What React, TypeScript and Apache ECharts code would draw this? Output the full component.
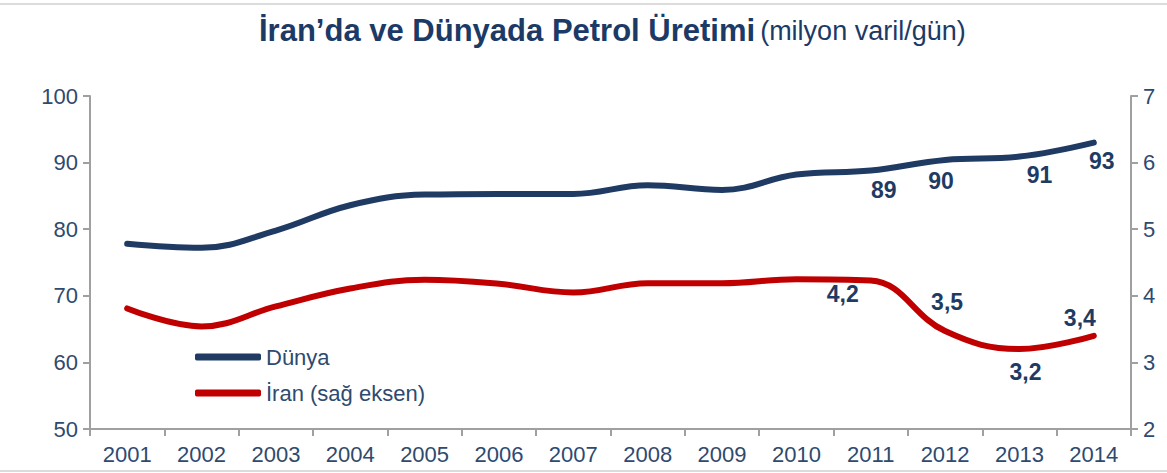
import React, { useEffect, useRef } from "react";
import * as echarts from "echarts";

const years = ["2001","2002","2003","2004","2005","2006","2007","2008","2009","2010","2011","2012","2013","2014"];
const dunya = [77.8, 77.2, 79.8, 83.6, 85.2, 85.3, 85.3, 86.6, 85.9, 88.2, 88.8, 90.4, 90.9, 93.0];
const iran = [3.81, 3.54, 3.84, 4.11, 4.24, 4.18, 4.05, 4.19, 4.19, 4.25, 4.23, 3.47, 3.2, 3.4];
const dunyaLabels: Record<number, string> = { 10: "89", 11: "90", 12: "91", 13: "93" };
const iranLabels: Record<number, string> = { 10: "4,2", 11: "3,5", 12: "3,2", 13: "3,4" };
const leftTicks = { min: 50, max: 100, interval: 10 };
const rightTicks = { min: 2, max: 7, interval: 1 };

const FONT = "'Liberation Sans', Arial, sans-serif";
const TEXT = "#2e4a6e";
const NAVY = "#1f3b63";
const RED = "#c00000";
const AXIS = "#a0a0a0";

export default function App() {
  const ref = useRef<HTMLDivElement>(null);
  useEffect(() => {
    if (!ref.current) return;
    const chart = echarts.init(ref.current, null, { renderer: "svg" });
    const dunyaPos: Record<number, any> = {
      10: { position: "bottom", distance: 8, offset: [13, 0] },
      11: { position: "bottom", distance: 10, offset: [-4, 0] },
      12: { position: "bottom", distance: 7, offset: [20, 0] },
      13: { position: "bottom", distance: 7, offset: [8, 0] },
    };
    const iranPos: Record<number, any> = {
      10: { position: "bottom", distance: 2, offset: [-28, 0] },
      11: { position: "top", distance: 18, offset: [2, 0] },
      12: { position: "bottom", distance: 11, offset: [6, 0] },
      13: { position: "top", distance: 6, offset: [-14, 0] },
    };
    const lbl = (txt: string, p: any) => ({
      show: true,
      formatter: txt,
      color: NAVY,
      fontFamily: FONT,
      fontWeight: "bold",
      fontSize: 23,
      ...p,
    });
    const dData = dunya.map((v, i) =>
      dunyaLabels[i] ? { value: v, label: lbl(dunyaLabels[i], dunyaPos[i]) } : v
    );
    const iData = iran.map((v, i) =>
      iranLabels[i] ? { value: v, label: lbl(iranLabels[i], iranPos[i]) } : v
    );
    const yAxisCommon = {
      type: "value",
      splitLine: { show: false },
      axisLine: { show: true, lineStyle: { color: AXIS, width: 2 } },
      axisTick: { show: true, length: 7, lineStyle: { color: AXIS, width: 2 } },
      axisLabel: { color: TEXT, fontFamily: FONT, fontSize: 22, margin: 12 },
    };
    chart.setOption({
      animation: false,
      title: {
        text: "{a|İran’da ve Dünyada Petrol Üretimi} {b|(milyon varil/gün)}",
        left: 254,
        top: 10,
        textStyle: {
          rich: {
            a: { fontFamily: FONT, fontWeight: "bold", fontSize: 31, color: "#1b3a66" },
            b: { fontFamily: FONT, fontWeight: "normal", fontSize: 27, color: "#1b3a66" },
          },
        },
      },
      grid: { left: 90, right: 36, top: 96, bottom: 44, containLabel: false },
      legend: {
        orient: "vertical",
        left: 190,
        top: 341,
        itemWidth: 66,
        itemHeight: 7,
        itemGap: 14,
        icon: "roundRect",
        textStyle: { color: TEXT, fontFamily: FONT, fontSize: 22 },
        data: ["Dünya", "İran (sağ eksen)"],
      },
      xAxis: {
        type: "category",
        data: years,
        boundaryGap: true,
        axisLine: { lineStyle: { color: AXIS, width: 2 } },
        axisTick: { show: true, length: 7, lineStyle: { color: AXIS, width: 2 } },
        axisLabel: { color: TEXT, fontFamily: FONT, fontSize: 22, margin: 14 },
      },
      yAxis: [
        { ...yAxisCommon, position: "left", ...leftTicks },
        { ...yAxisCommon, position: "right", ...rightTicks },
      ],
      series: [
        {
          name: "Dünya",
          type: "line",
          yAxisIndex: 0,
          data: dData,
          smooth: 0.4,
          symbol: "circle",
          symbolSize: 0.1,
          showSymbol: true,
          lineStyle: { color: NAVY, width: 6, cap: "round" },
          itemStyle: { color: NAVY },
        },
        {
          name: "İran (sağ eksen)",
          type: "line",
          yAxisIndex: 1,
          data: iData,
          smooth: 0.4,
          symbol: "circle",
          symbolSize: 0.1,
          showSymbol: true,
          lineStyle: { color: RED, width: 6, cap: "round" },
          itemStyle: { color: RED },
        },
      ],
      graphic: [
        { type: "line", shape: { x1: 0, y1: 4, x2: 1167, y2: 4 }, style: { stroke: "#dcdcdc", lineWidth: 2 } },
        { type: "line", shape: { x1: 0, y1: 471, x2: 1167, y2: 471 }, style: { stroke: "#dcdcdc", lineWidth: 2 } },
      ],
    });
    return () => chart.dispose();
  }, []);
  return (
    <div
      ref={ref}
      style={{ position: "fixed", left: 0, top: 0, width: 1167, height: 473, background: "#fff" }}
    />
  );
}
